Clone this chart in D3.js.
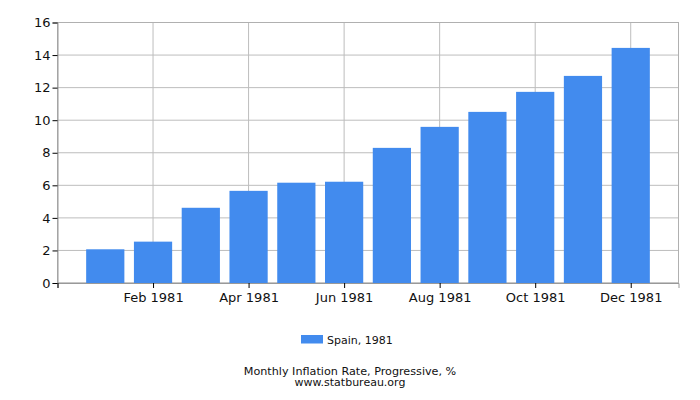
<!DOCTYPE html>
<html>
<head>
<meta charset="utf-8">
<script src="https://cdn.jsdelivr.net/npm/d3@7"></script>
<style>
  body { margin: 0; background: #fff; }
  text { font-family: "DejaVu Sans", sans-serif; fill: #111; }
</style>
</head>
<body>
<div id="chart"></div>
<script>
// data
var months = ["Jan 1981", "Feb 1981", "Mar 1981", "Apr 1981", "May 1981", "Jun 1981",
              "Jul 1981", "Aug 1981", "Sep 1981", "Oct 1981", "Nov 1981", "Dec 1981"];
var values = [2.07, 2.54, 4.62, 5.66, 6.16, 6.22, 8.30, 9.59, 10.51, 11.74, 12.72, 14.44];
var yTicks = [0, 2, 4, 6, 8, 10, 12, 14, 16];
var seriesName = "Spain, 1981";

var wd = 700, ht = 400;
var margin = { top: 22.5, right: 21.5, bottom: 117, left: 57.5 };

var svg = d3.select("#chart").append("svg").attr("width", wd).attr("height", ht);

// month index 1..12, one slot of padding on each side
var xScale = d3.scaleLinear().domain([0, 13]).range([margin.left, wd - margin.right]);
var yScale = d3.scaleLinear().domain([0, 16]).range([ht - margin.bottom, margin.top]);
var slot = xScale(1) - xScale(0);
var barW = slot * 0.8;

// grid
svg.append("g").selectAll("line").data(yTicks).enter().append("line")
   .attr("x1", margin.left).attr("x2", wd - margin.right)
   .attr("y1", function(d){ return yScale(d); }).attr("y2", function(d){ return yScale(d); })
   .attr("stroke", "#bdbdbd").attr("stroke-width", 1);

var xTickIdx = [2, 4, 6, 8, 10, 12];
svg.append("g").selectAll("line").data(xTickIdx).enter().append("line")
   .attr("x1", function(d){ return xScale(d); }).attr("x2", function(d){ return xScale(d); })
   .attr("y1", margin.top).attr("y2", ht - margin.bottom)
   .attr("stroke", "#bdbdbd").attr("stroke-width", 1);

// frame
svg.append("rect").attr("x", margin.left).attr("y", margin.top)
   .attr("width", wd - margin.left - margin.right).attr("height", ht - margin.top - margin.bottom)
   .attr("fill", "none").attr("stroke", "#b0b0b0");

// bars
svg.append("g").selectAll("rect").data(values).enter().append("rect")
   .attr("x", function(d, i){ return xScale(i + 1) - barW / 2; })
   .attr("y", function(d){ return yScale(d); })
   .attr("width", barW)
   .attr("height", function(d){ return yScale(0) - yScale(d); })
   .attr("fill", "#428bee");

// axes
var yAxis = d3.axisLeft(yScale).tickValues(yTicks).tickSize(5).tickPadding(2).tickFormat(d3.format("d"));
var gy = svg.append("g").attr("transform", "translate(" + margin.left + ",0)").call(yAxis);
gy.select(".domain").attr("stroke", "#999");
gy.selectAll(".tick line").attr("stroke", "#000");
gy.selectAll("text").style("font-size", "13px").style("font-family", "DejaVu Sans").attr("fill", "#111");

var xAxis = d3.axisBottom(xScale).tickValues([0].concat(xTickIdx)).tickSize(5).tickPadding(5)
              .tickFormat(function(d){ return d === 0 ? "" : months[d - 1]; });
var gx = svg.append("g").attr("transform", "translate(0," + (ht - margin.bottom) + ")").call(xAxis);
gx.select(".domain").attr("stroke", "#999");
gx.selectAll(".tick line").attr("stroke", "#000");
gx.selectAll("text").style("font-size", "13px").style("font-family", "DejaVu Sans").attr("fill", "#111");

// legend
svg.append("rect").attr("x", 301).attr("y", 335).attr("width", 22).attr("height", 8.5).attr("fill", "#428bee");
svg.append("text").attr("x", 327).attr("y", 343.5).style("font-size", "11px").text(seriesName);

// caption
svg.append("text").attr("x", 350).attr("y", 374.5).attr("text-anchor", "middle").style("font-size", "11.2px")
   .text("Monthly Inflation Rate, Progressive, %");
svg.append("text").attr("x", 350).attr("y", 386).attr("text-anchor", "middle").style("font-size", "11px")
   .text("www.statbureau.org");
</script>
</body>
</html>
